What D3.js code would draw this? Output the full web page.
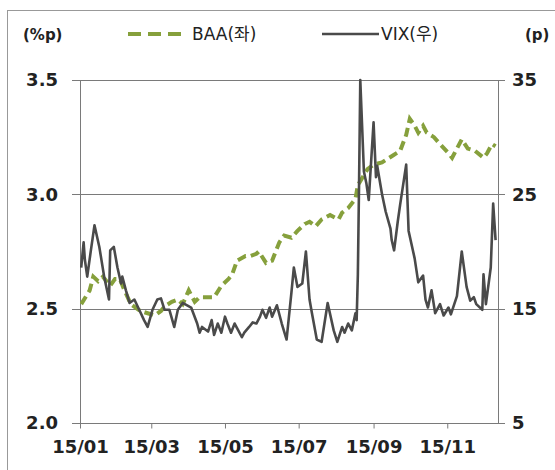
<!DOCTYPE html>
<html>
<head>
<meta charset="utf-8">
<script src="https://cdn.jsdelivr.net/npm/d3@7"></script>
<style>
  body { margin: 0; background: #fff; }
  text { font-family: "DejaVu Sans", "Noto Sans CJK KR", sans-serif; fill: #222; }
</style>
</head>
<body>
<div id="chart"></div>
<script>
// BAA spread (left axis, %p)
const baaDates = ['2015-01-02','2015-01-09','2015-01-12','2015-01-16','2015-01-20','2015-01-26','2015-01-30','2015-02-03','2015-02-06','2015-02-12','2015-02-20','2015-02-26','2015-03-04','2015-03-09','2015-03-12','2015-03-18','2015-03-23','2015-03-27','2015-04-01','2015-04-06','2015-04-10','2015-04-16','2015-04-22','2015-04-28','2015-05-04','2015-05-07','2015-05-11','2015-05-18','2015-05-22','2015-05-27','2015-05-29','2015-06-04','2015-06-09','2015-06-15','2015-06-19','2015-06-25','2015-06-30','2015-07-06','2015-07-10','2015-07-15','2015-07-20','2015-07-27','2015-08-03','2015-08-06','2015-08-11','2015-08-17','2015-08-19','2015-08-27','2015-09-01','2015-09-08','2015-09-14','2015-09-17','2015-09-23','2015-09-28','2015-10-01','2015-10-05','2015-10-08','2015-10-12','2015-10-15','2015-10-21','2015-10-26','2015-11-02','2015-11-05','2015-11-13','2015-11-18','2015-11-24','2015-12-01','2015-12-04','2015-12-08','2015-12-11'];
const baaValues = [2.52,2.58,2.64,2.62,2.64,2.60,2.63,2.63,2.59,2.52,2.49,2.48,2.47,2.49,2.51,2.53,2.54,2.52,2.58,2.53,2.55,2.55,2.55,2.60,2.63,2.65,2.71,2.73,2.73,2.74,2.75,2.70,2.71,2.79,2.82,2.81,2.84,2.87,2.88,2.86,2.89,2.91,2.89,2.92,2.94,2.98,3.04,3.11,3.13,3.14,3.16,3.17,3.19,3.26,3.33,3.30,3.27,3.30,3.27,3.25,3.22,3.18,3.16,3.24,3.20,3.19,3.16,3.18,3.22,3.21];

// VIX (right axis, p)
const vixDates = ['2015-01-02','2015-01-04','2015-01-05','2015-01-07','2015-01-10','2015-01-13','2015-01-17','2015-01-21','2015-01-25','2015-01-26','2015-01-29','2015-02-01','2015-02-04','2015-02-05','2015-02-08','2015-02-11','2015-02-15','2015-02-19','2015-02-23','2015-02-26','2015-03-02','2015-03-06','2015-03-09','2015-03-12','2015-03-16','2015-03-20','2015-03-23','2015-03-27','2015-04-03','2015-04-08','2015-04-10','2015-04-12','2015-04-17','2015-04-20','2015-04-22','2015-04-25','2015-04-28','2015-05-01','2015-05-03','2015-05-06','2015-05-09','2015-05-11','2015-05-15','2015-05-17','2015-05-21','2015-05-24','2015-05-27','2015-05-30','2015-06-01','2015-06-04','2015-06-07','2015-06-09','2015-06-13','2015-06-17','2015-06-21','2015-06-25','2015-06-27','2015-06-30','2015-07-04','2015-07-07','2015-07-10','2015-07-12','2015-07-16','2015-07-20','2015-07-25','2015-07-30','2015-08-02','2015-08-06','2015-08-08','2015-08-11','2015-08-14','2015-08-17','2015-08-18','2015-08-19','2015-08-20','2015-08-21','2015-08-24','2015-08-26','2015-08-28','2015-09-01','2015-09-03','2015-09-04','2015-09-08','2015-09-11','2015-09-15','2015-09-16','2015-09-18','2015-09-21','2015-09-23','2015-09-28','2015-09-30','2015-10-05','2015-10-08','2015-10-12','2015-10-14','2015-10-16','2015-10-19','2015-10-22','2015-10-26','2015-10-29','2015-11-02','2015-11-04','2015-11-09','2015-11-13','2015-11-17','2015-11-20','2015-11-23','2015-11-25','2015-11-30','2015-12-01','2015-12-03','2015-12-07','2015-12-09','2015-12-11'];
const vixValues = [18.6,20.8,19.3,17.8,20.1,22.3,20.4,17.8,15.8,20.1,20.4,18.6,17.2,17.8,16.6,15.5,15.8,14.9,14.0,13.4,14.9,15.8,15.9,14.9,14.9,13.4,14.9,15.5,15.1,13.7,12.9,13.4,13.0,14.0,12.7,13.7,12.9,14.3,13.7,12.9,13.7,13.3,12.5,12.9,13.4,13.8,13.7,14.3,14.9,14.2,15.1,14.3,15.3,13.7,12.3,16.4,18.6,16.9,17.2,20.0,15.8,14.6,12.3,12.1,15.5,13.1,12.1,13.4,12.9,13.7,13.1,14.6,14.0,18.0,26.0,35.0,27.0,26.0,24.5,31.3,26.5,27.5,25.0,23.5,22.0,21.0,20.1,22.6,24.1,27.6,21.8,19.4,17.3,17.9,15.8,15.1,16.6,14.6,15.4,14.4,15.1,14.5,16.1,20.0,16.9,15.7,16.0,15.4,14.9,18.0,15.4,18.6,24.2,21.0];

const leftTicks = [2.0, 2.5, 3.0, 3.5];
const rightTicks = [5, 15, 25, 35];
const monthTicks = ['2015-01-01','2015-03-01','2015-05-01','2015-07-01','2015-09-01','2015-11-01'];

const width = 555, height = 470;
const parse = d3.timeParse('%Y-%m-%d');
const plot = { left: 80, right: 498, top: 80, bottom: 423 };

const x = d3.scaleTime()
  .domain([parse('2015-01-01'), parse('2015-12-13')])
  .range([plot.left, plot.right]);
const yL = d3.scaleLinear().domain([2, 3.5]).range([plot.bottom, plot.top]);
const yR = d3.scaleLinear().domain([5, 35]).range([plot.bottom, plot.top]);

const svg = d3.select('#chart').append('svg')
  .attr('width', width)
  .attr('height', height);

// outer frame
svg.append('rect')
  .attr('x', 7.5).attr('y', 10.5)
  .attr('width', 600).attr('height', 500)
  .attr('fill', 'none').attr('stroke', '#999');

// gridlines (extend a bit past both axes, like tick marks)
svg.append('g')
  .selectAll('line')
  .data(leftTicks)
  .join('line')
  .attr('x1', plot.left - 8).attr('x2', plot.right + 7)
  .attr('y1', (d) => Math.round(yL(d)) + 0.5)
  .attr('y2', (d) => Math.round(yL(d)) + 0.5)
  .attr('stroke', '#7a7a7a')
  .attr('stroke-width', 1);

// vertical axis lines
svg.append('g')
  .selectAll('line')
  .data([plot.left, plot.right])
  .join('line')
  .attr('x1', (d) => d + 0.5).attr('x2', (d) => d + 0.5)
  .attr('y1', plot.top).attr('y2', plot.bottom)
  .attr('stroke', '#7a7a7a');

// left axis labels
svg.append('g')
  .attr('transform', 'translate(58,0)')
  .call(d3.axisLeft(yL).tickValues(leftTicks).tickFormat(d3.format('.1f')).tickSize(0).tickPadding(0))
  .call((g) => g.select('.domain').remove())
  .selectAll('text')
  .attr('font-size', 18).attr('font-weight', 'bold')
  .attr('font-family', '"DejaVu Sans", sans-serif').attr('fill', '#222');

// right axis labels
svg.append('g')
  .attr('transform', 'translate(512,0)')
  .call(d3.axisRight(yR).tickValues(rightTicks).tickSize(0).tickPadding(0))
  .call((g) => g.select('.domain').remove())
  .selectAll('text')
  .attr('font-size', 18).attr('font-weight', 'bold')
  .attr('font-family', '"DejaVu Sans", sans-serif').attr('fill', '#222');

// bottom axis
svg.append('g')
  .attr('transform', `translate(0,${plot.bottom + 0.5})`)
  .call(d3.axisBottom(x).tickValues(monthTicks.map(parse))
    .tickFormat(d3.timeFormat('%y/%m')).tickSize(5).tickPadding(12))
  .call((g) => g.select('.domain').remove())
  .call((g) => g.selectAll('line').attr('stroke', '#7a7a7a'))
  .selectAll('text')
  .attr('font-size', 18).attr('font-weight', 'bold')
  .attr('font-family', '"DejaVu Sans", sans-serif').attr('fill', '#222');

svg.append('defs').append('clipPath').attr('id', 'clip')
  .append('rect')
  .attr('x', plot.left).attr('y', plot.top - 2)
  .attr('width', plot.right - plot.left).attr('height', plot.bottom - plot.top + 2);

const baa = baaDates.map((d, i) => ({ date: parse(d), value: baaValues[i] }));
const vix = vixDates.map((d, i) => ({ date: parse(d), value: vixValues[i] }));

const baaColor = '#86a03c';
const vixColor = '#4a4a4a';

const lines = svg.append('g').attr('clip-path', 'url(#clip)');

lines.append('path')
  .datum(baa)
  .attr('fill', 'none')
  .attr('stroke', baaColor)
  .attr('stroke-width', 4)
  .attr('stroke-dasharray', '9,5')
  .attr('d', d3.line().x((d) => x(d.date)).y((d) => yL(d.value)));

lines.append('path')
  .datum(vix)
  .attr('fill', 'none')
  .attr('stroke', vixColor)
  .attr('stroke-width', 2.6)
  .attr('stroke-linejoin', 'round')
  .attr('d', d3.line().x((d) => x(d.date)).y((d) => yR(d.value)));

// unit labels
svg.append('text').attr('x', 23).attr('y', 40)
  .attr('font-size', 15).attr('font-weight', 'bold').text('(%p)');
svg.append('text').attr('x', 525).attr('y', 40)
  .attr('font-size', 15).attr('font-weight', 'bold').text('(p)');

// legend
const legend = svg.append('g');
legend.append('line')
  .attr('x1', 128).attr('x2', 182).attr('y1', 34).attr('y2', 34)
  .attr('stroke', baaColor).attr('stroke-width', 4).attr('stroke-dasharray', '13,7');
legend.append('text').attr('x', 192).attr('y', 40)
  .attr('font-size', 17).text('BAA(좌)');
legend.append('line')
  .attr('x1', 322).attr('x2', 379).attr('y1', 34).attr('y2', 34)
  .attr('stroke', vixColor).attr('stroke-width', 2.5);
legend.append('text').attr('x', 381).attr('y', 40)
  .attr('font-size', 17).text('VIX(우)');
</script>
</body>
</html>
